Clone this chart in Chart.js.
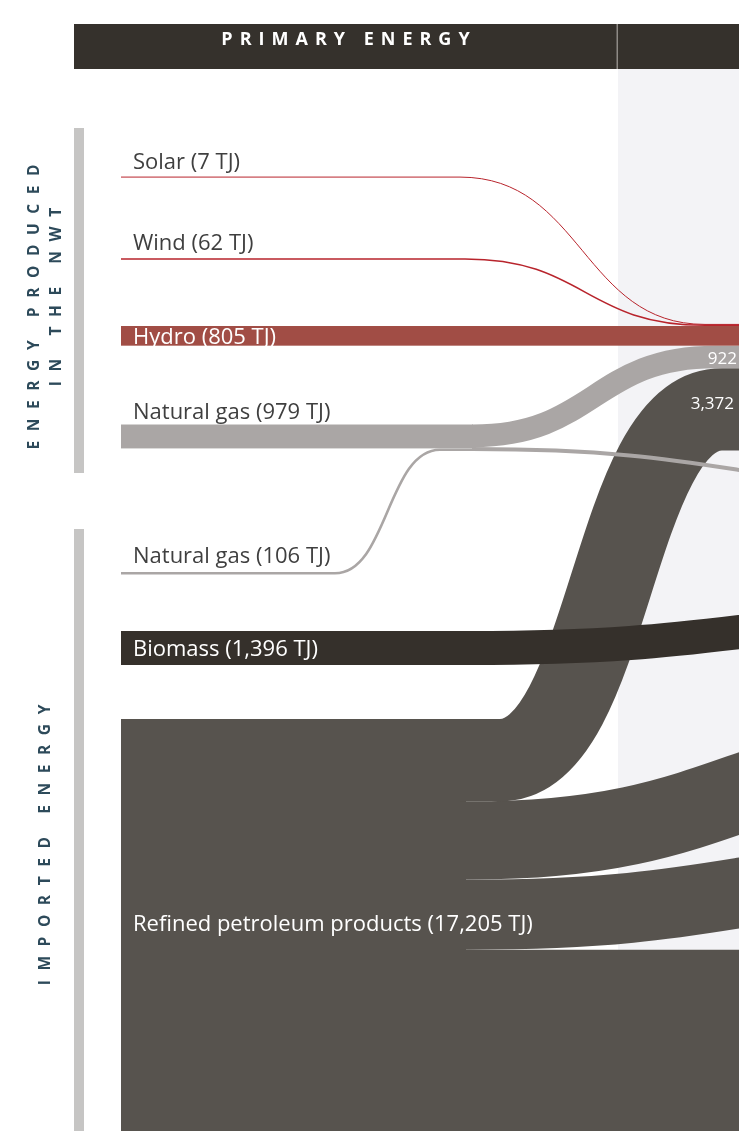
<!DOCTYPE html>
<html><head><meta charset="utf-8">
<script src="https://cdn.jsdelivr.net/npm/chart.js@4.4.1/dist/chart.umd.min.js"></script>
<style>html,body{margin:0;padding:0;background:#fff;}#wrap{width:739px;height:1131px;position:relative;}canvas{display:block;}</style>
</head><body><div id="wrap"><canvas id="c" width="739" height="1131"></canvas></div>
<script>
// ---------------- DATA (TJ) ----------------
const sourceLabels = ['Solar (7 TJ)', 'Wind (62 TJ)', 'Hydro (805 TJ)', 'Natural gas (979 TJ)',
  'Natural gas (106 TJ)', 'Biomass (1,396 TJ)', 'Refined petroleum products (17,205 TJ)'];
const sourceValues = [7, 62, 805, 979, 106, 1396, 17205];
const groupTitles = [['ENERGY PRODUCED', 'IN THE NWT'], ['IMPORTED ENERGY']];
const headerTitles = ['PRIMARY ENERGY'];
const gasToElectricity = 922;
const petroleumSplit = [3372, 3200, 2870, 7763];
const flowValueLabels = ['922', '3,372'];

// ---------------- LAYOUT (axis units: x = layout units, y = TJ) ----------------
const X_MAX = 739, Y_MAX = 46300;
const PX = Y_MAX / 1131; // TJ per layout row
const nodeTopTJ = [7246, 10570, 13346, 17378, 23416, 25831, 29434];
const targetTopTJ = { gasOther: 19978, biomass: 24519, petro2: 28939, petro3: 34221 };

const COL = {
  red: '#b8242c', hydro: '#a14d45', gas: '#aaa6a5', biomass: '#35302b', petro: '#57534e',
  header: '#35312c', panel: '#f3f3f6', bar: '#c6c5c4', side: '#2d4a5a', label: '#3f3f3f'
};
const FONT = '"Open Sans", "Noto Sans", sans-serif';

function spaced(ctx, text, x, y, ls) {
  let total = 0; const w = [];
  for (const ch of text) { const a = ctx.measureText(ch).width; w.push(a); total += a; }
  total += ls * (w.length - 1);
  let cx = x - total / 2; let i = 0;
  ctx.textAlign = 'left';
  for (const ch of text) { ctx.fillText(ch, cx, y); cx += w[i++] + ls; }
}

const sankeyPlugin = {
  id: 'sankeyDraw',
  beforeDatasetsDraw(chart) {
    const { ctx, scales: { x, y } } = chart;
    const X = v => x.getPixelForValue(v);
    const Y = v => y.getPixelForValue(v);
    const H = (top, v) => Math.abs(Y(top + v) - Y(top));

    ctx.save();
    // light panel
    ctx.fillStyle = COL.panel;
    ctx.fillRect(X(618), Y(69 * PX), X(739) - X(618), Y(Y_MAX) - Y(69 * PX));
    // header
    const hTop = Y(24 * PX), hBot = Y(69 * PX);
    ctx.fillStyle = COL.header;
    ctx.fillRect(X(74), hTop, X(739) - X(74), hBot - hTop);
    ctx.fillStyle = '#8e8a85';
    ctx.fillRect(X(616.5), hTop, 1.5, hBot - hTop);
    ctx.fillStyle = '#ffffff';
    ctx.font = 'bold 18px ' + FONT;
    ctx.textBaseline = 'alphabetic';
    spaced(ctx, headerTitles[0], X(345.5), hTop + 21, 7);

    // side group bars
    ctx.fillStyle = COL.bar;
    ctx.fillRect(X(74), Y(128 * PX), X(84) - X(74), Y(473 * PX) - Y(128 * PX));
    ctx.fillRect(X(74), Y(529 * PX), X(84) - X(74), Y(Y_MAX) - Y(529 * PX));
    ctx.fillStyle = COL.side;
    ctx.font = 'bold 15.5px ' + FONT;
    const rot = (t, cx, cy) => { ctx.save(); ctx.translate(cx, cy); ctx.rotate(-Math.PI / 2); spaced(ctx, t, 0, 5.5, 9.6); ctx.restore(); };
    rot(groupTitles[0][0], X(33), Y(307 * PX));
    rot(groupTitles[0][1], X(55), Y(297 * PX));
    rot(groupTitles[1][0], X(44), Y(845 * PX));

    // flow helper: stroked bezier band
    function flow(v, top0, top1, xs, cs, ce, xe, color, minW) {
      const w = Math.max(H(top0, v), minW || 0);
      const y0 = Y(top0 + v / 2), y1 = Y(top1 + v / 2);
      const m = (X(cs) + X(ce)) / 2;
      ctx.beginPath();
      ctx.moveTo(X(xs), y0); ctx.lineTo(X(cs), y0);
      ctx.bezierCurveTo(m, y0, m, y1, X(ce), y1);
      ctx.lineTo(X(xe), y1);
      ctx.strokeStyle = color; ctx.lineWidth = w; ctx.lineCap = 'butt'; ctx.lineJoin = 'round';
      ctx.stroke();
    }
    function rect(top, v, x0, x1, color) {
      ctx.fillStyle = color;
      ctx.fillRect(X(x0), Y(top), X(x1) - X(x0), H(top, v));
    }

    const elecTop = nodeTopTJ[2] - sourceValues[0] - sourceValues[1];
    const elecGas = elecTop + sourceValues[0] + sourceValues[1] + sourceValues[2];
    const elecPetro = elecGas + gasToElectricity;

    // refined petroleum
    const pTop = nodeTopTJ[6];
    rect(pTop, sourceValues[6], 121, 466, COL.petro);
    let acc = pTop;
    const pStarts = petroleumSplit.map(v => { const s = acc; acc += v; return s; });
    flow(petroleumSplit[3], pStarts[3], pStarts[3], 460, 600, 700, 800, COL.petro);
    flow(petroleumSplit[2], pStarts[2], targetTopTJ.petro3, 460, 470, 1010, 1010, COL.petro);
    flow(petroleumSplit[1], pStarts[1], targetTopTJ.petro2, 460, 470, 1010, 1010, COL.petro);
    flow(petroleumSplit[0], pStarts[0], elecPetro, 460, 500, 722, 800, COL.petro);

    // natural gas
    const gTop = nodeTopTJ[3];
    const gasOther = sourceValues[3] + sourceValues[4] - gasToElectricity;
    flow(sourceValues[4], nodeTopTJ[4], gTop + sourceValues[3], 121, 335, 440, 475, COL.gas, 2);
    rect(gTop, sourceValues[3], 121, 473, COL.gas);
    flow(gasToElectricity, gTop, elecGas, 472, 473, 715, 800, COL.gas);
    flow(gasOther, gTop + gasToElectricity, targetTopTJ.gasOther, 472, 473, 1000, 1000, COL.gas, 3);

    // biomass
    flow(sourceValues[5], nodeTopTJ[5], targetTopTJ.biomass, 121, 470, 1010, 1010, COL.biomass);

    // hydro, wind, solar
    rect(nodeTopTJ[2], sourceValues[2], 121, 739, COL.hydro);
    flow(sourceValues[1], nodeTopTJ[1], elecTop + sourceValues[0], 121, 465, 705, 800, COL.red, 1.6);
    flow(sourceValues[0], nodeTopTJ[0], elecTop, 121, 460, 705, 800, COL.red, 1);

    // labels
    ctx.font = '22px ' + FONT;
    ctx.textAlign = 'left'; ctx.textBaseline = 'alphabetic';
    const lx = X(133);
    const dark = [0, 1, 3, 4];
    const lblY = [
      Y(nodeTopTJ[0]) - 8, Y(nodeTopTJ[1]) - 8, Y(nodeTopTJ[2] + sourceValues[2] / 2) + 8,
      Y(nodeTopTJ[3]) - 6, Y(nodeTopTJ[4]) - 9, Y(nodeTopTJ[5] + sourceValues[5] / 2) + 8,
      Y(nodeTopTJ[6] + sourceValues[6] * 0.485) + 8
    ];
    sourceLabels.forEach((t, i) => {
      ctx.fillStyle = dark.includes(i) ? COL.label : '#ffffff';
      ctx.fillText(t, lx, lblY[i]);
    });
    ctx.fillStyle = '#ffffff';
    ctx.font = '17px ' + FONT;
    ctx.textAlign = 'right';
    ctx.fillText(flowValueLabels[0], X(737), Y(elecGas + gasToElectricity / 2) + 7);
    ctx.fillText(flowValueLabels[1], X(734), Y(elecPetro) + 41);
    ctx.restore();
  }
};

new Chart(document.getElementById('c'), {
  type: 'scatter',
  data: { datasets: [{ data: [], pointRadius: 0 }] },
  options: {
    responsive: false, animation: false, devicePixelRatio: 1,
    layout: { padding: 0 },
    plugins: { legend: { display: false }, tooltip: { enabled: false } },
    scales: {
      x: { type: 'linear', min: 0, max: X_MAX, display: false },
      y: { type: 'linear', min: 0, max: Y_MAX, reverse: true, display: false }
    }
  },
  plugins: [sankeyPlugin]
});
</script></body></html>
